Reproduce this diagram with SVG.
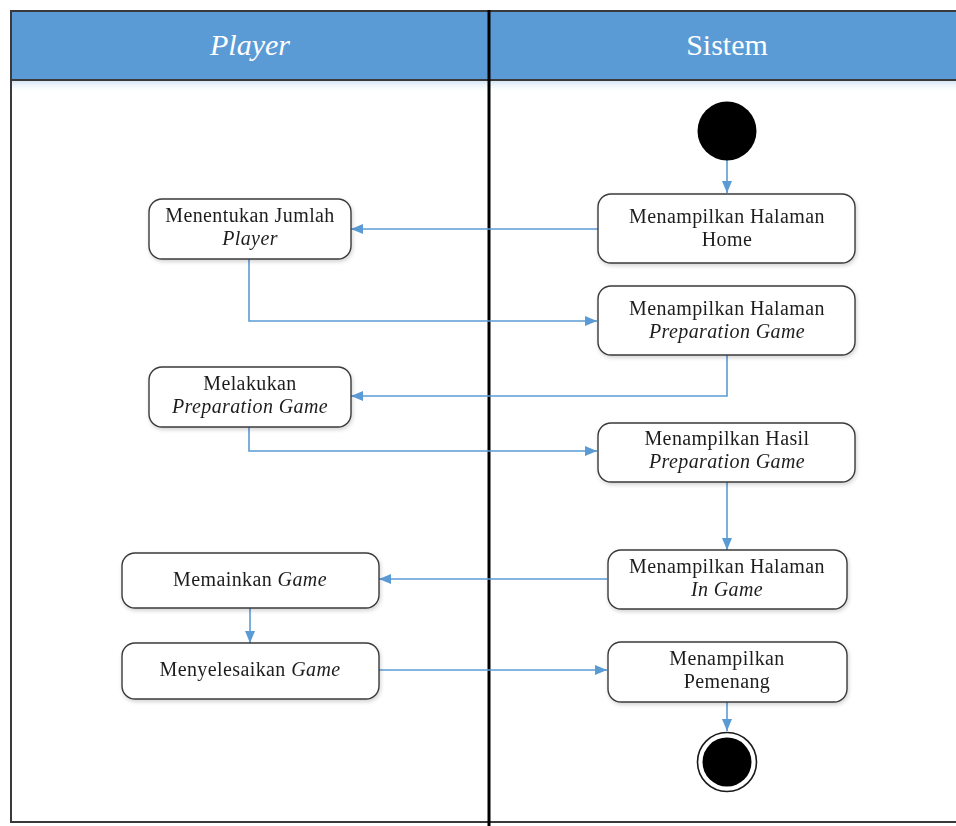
<svg xmlns="http://www.w3.org/2000/svg" width="956" height="826" viewBox="0 0 956 826">
  <style>
    .lane-title { font-family: "Liberation Serif", "Times New Roman", serif; font-size: 30px; fill: #ffffff; text-anchor: middle; }
    .act { fill: #ffffff; stroke: #3a3a3a; stroke-width: 1.4; }
    .lbl { font-family: "Liberation Serif", "Times New Roman", serif; font-size: 20px; fill: #1e1e1e; text-anchor: middle; letter-spacing: 0.4px; }
    .it { font-style: italic; }
    .flow { fill: none; stroke: #5b9bd5; stroke-width: 1.6; marker-end: url(#arrow); }
  </style>
  <defs>
    <marker id="arrow" viewBox="0 0 12 10" refX="12" refY="5" markerWidth="12" markerHeight="10" markerUnits="userSpaceOnUse" orient="auto">
      <path d="M0,0 L12,5 L0,10 Z" fill="#5b9bd5"/>
    </marker>
    <linearGradient id="headShade" x1="0" y1="0" x2="0" y2="1">
      <stop offset="0" stop-color="#d6e6f5"/>
      <stop offset="1" stop-color="#ffffff" stop-opacity="0"/>
    </linearGradient>
    <filter id="soft" x="-10%" y="-20%" width="125%" height="150%">
      <feGaussianBlur in="SourceAlpha" stdDeviation="2"/>
      <feOffset dx="1" dy="2" result="b"/>
      <feComponentTransfer><feFuncA type="linear" slope="0.18"/></feComponentTransfer>
      <feMerge><feMergeNode/><feMergeNode in="SourceGraphic"/></feMerge>
    </filter>
  </defs>

  <!-- swimlane frame -->
  <g id="lanes">
    <rect x="0" y="0" width="956" height="826" fill="#ffffff"/>
    <rect x="11" y="11" width="960" height="811" fill="#ffffff" stroke="#3a3a3a" stroke-width="2"/>
    <rect x="11" y="11" width="960" height="69" fill="#5b9bd5" stroke="#3a3a3a" stroke-width="2"/>
    <rect x="12" y="81" width="960" height="12" fill="url(#headShade)"/>
    <line x1="489" y1="10" x2="489" y2="826" stroke="#000000" stroke-width="3"/>
    <text class="lane-title it" x="250" y="55">Player</text>
    <text class="lane-title" x="727" y="55">Sistem</text>
  </g>

  <!-- connectors -->
  <g id="connectors">
    <path class="flow" d="M727,160 L727,193"/>
    <path class="flow" d="M598,229 L351,229"/>
    <path class="flow" d="M249,259 L249,321 L597,321"/>
    <path class="flow" d="M727,355 L727,396 L351,396"/>
    <path class="flow" d="M249,427 L249,451 L597,451"/>
    <path class="flow" d="M727,482 L727,550"/>
    <path class="flow" d="M607,579 L379,579"/>
    <path class="flow" d="M250,608 L250,643"/>
    <path class="flow" d="M379,670 L607,670"/>
    <path class="flow" d="M727,702 L727,731"/>
  </g>

  <!-- initial node -->
  <g id="start">
    <circle cx="727" cy="131" r="29.5" fill="#000000"/>
  </g>

  <g id="home" filter="url(#soft)">
    <rect class="act" x="598" y="194" width="257" height="69" rx="13"/>
    <text class="lbl" x="727" y="223">Menampilkan Halaman</text>
    <text class="lbl" x="727" y="246">Home</text>
  </g>

  <g id="jumlah-player" filter="url(#soft)">
    <rect class="act" x="149" y="199" width="202" height="60" rx="13"/>
    <text class="lbl" x="250" y="222">Menentukan Jumlah</text>
    <text class="lbl it" x="250" y="245">Player</text>
  </g>

  <g id="halaman-preparation" filter="url(#soft)">
    <rect class="act" x="598" y="286" width="257" height="69" rx="13"/>
    <text class="lbl" x="727" y="315">Menampilkan Halaman</text>
    <text class="lbl it" x="727" y="338">Preparation Game</text>
  </g>

  <g id="melakukan-preparation" filter="url(#soft)">
    <rect class="act" x="149" y="367" width="202" height="60" rx="13"/>
    <text class="lbl" x="250" y="390">Melakukan</text>
    <text class="lbl it" x="250" y="413">Preparation Game</text>
  </g>

  <g id="hasil-preparation" filter="url(#soft)">
    <rect class="act" x="598" y="423" width="257" height="59" rx="13"/>
    <text class="lbl" x="727" y="445">Menampilkan Hasil</text>
    <text class="lbl it" x="727" y="468">Preparation Game</text>
  </g>

  <g id="in-game" filter="url(#soft)">
    <rect class="act" x="608" y="550" width="239" height="59" rx="13"/>
    <text class="lbl" x="727" y="573">Menampilkan Halaman</text>
    <text class="lbl it" x="727" y="596">In Game</text>
  </g>

  <g id="memainkan" filter="url(#soft)">
    <rect class="act" x="122" y="553" width="257" height="55" rx="13"/>
    <text class="lbl" x="250" y="586">Memainkan <tspan class="it">Game</tspan></text>
  </g>

  <g id="menyelesaikan" filter="url(#soft)">
    <rect class="act" x="122" y="643" width="257" height="56" rx="13"/>
    <text class="lbl" x="250" y="676">Menyelesaikan <tspan class="it">Game</tspan></text>
  </g>

  <g id="pemenang" filter="url(#soft)">
    <rect class="act" x="608" y="642" width="239" height="60" rx="13"/>
    <text class="lbl" x="727" y="665">Menampilkan</text>
    <text class="lbl" x="727" y="688">Pemenang</text>
  </g>

  <!-- final node -->
  <g id="end">
    <circle cx="727" cy="762" r="29.5" fill="#ffffff" stroke="#1a1a1a" stroke-width="1.6"/>
    <circle cx="727" cy="762" r="24.5" fill="#000000"/>
  </g>
</svg>
